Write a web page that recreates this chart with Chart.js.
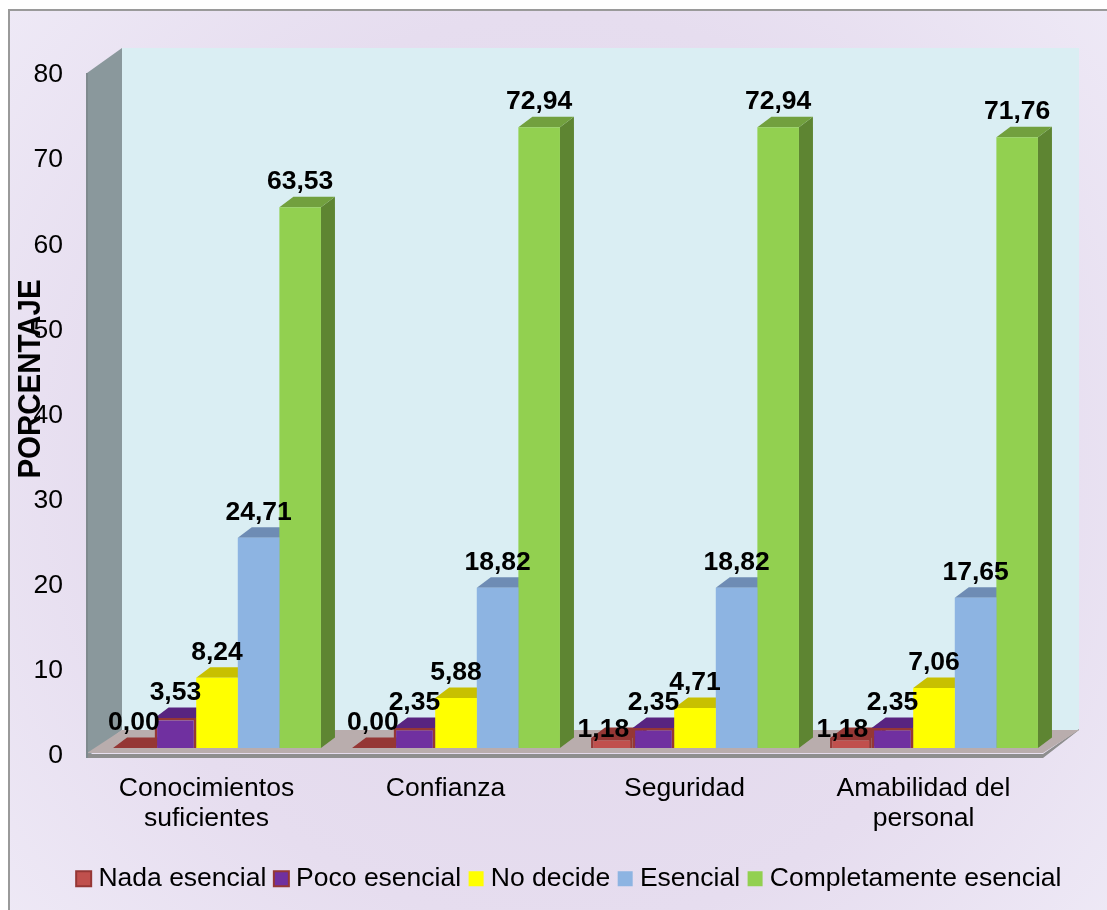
<!DOCTYPE html>
<html><head><meta charset="utf-8">
<style>html,body{margin:0;padding:0;background:#fff}canvas{display:block}</style>
<script src="https://cdn.jsdelivr.net/npm/chart.js@4"></script>
</head><body>
<div style="width:1107px;height:910px"><canvas id="c" width="1107" height="910"></canvas></div>
<script>
const categories = [["Conocimientos","suficientes"],"Confianza","Seguridad",["Amabilidad del","personal"]];
const nadaEsencial = [0.00,0.00,1.18,1.18];
const pocoEsencial = [3.53,2.35,2.35,2.35];
const noDecide = [8.24,5.88,4.71,7.06];
const esencial = [24.71,18.82,18.82,17.65];
const completamente = [63.53,72.94,72.94,71.76];
const seriesNames = ["Nada esencial","Poco esencial","No decide","Esencial","Completamente esencial"];
const axisTitle = "PORCENTAJE";
const FONT = '"Liberation Sans", Arial, sans-serif';
const front = ["#C0504D","#7030A0","#FFFF00","#8DB4E2","#92D050"];
const border = ["#953735","#953735","#FFFF00","#8DB4E2","#92D050"];
const topFace = ["#953735","#582480","#C8C000","#6E8CB4","#72A03E"];
const sideFace = ["#7A2E2C","#4A1E6E","#A8A000","#5F7FA8","#5E8532"];
const bw = [2.5,2.5,0,0,0];
const allValues = [nadaEsencial,pocoEsencial,noDecide,esencial,completamente];
const DEPTH_X = 14, DEPTH_Y = 10.5, SHIFT_X = 10.5;

function poly(ctx, pts, fill){
  ctx.beginPath();
  pts.forEach((p,i)=> i?ctx.lineTo(p[0],p[1]):ctx.moveTo(p[0],p[1]));
  ctx.closePath(); ctx.fillStyle=fill; ctx.fill();
}
const scene = {
  id:'scene',
  beforeDraw(chart){
    const {ctx,width,height}=chart;
    ctx.save();
    ctx.fillStyle='#fff'; ctx.fillRect(0,0,width,height);
    const g=ctx.createRadialGradient(560,470,60,560,470,720);
    g.addColorStop(0,'#E1D7EB'); g.addColorStop(0.6,'#E6DDEF'); g.addColorStop(1,'#EEE9F6');
    ctx.fillStyle=g; ctx.fillRect(9,10,width-9,height-10);
    ctx.fillStyle='#9A9A9A';
    ctx.fillRect(8,9,width-8,2); ctx.fillRect(8,9,2,height-9);
    ctx.restore();
  },
  beforeDatasetsDraw(chart){
    const {ctx,chartArea:a}=chart;
    const l=a.left, r=a.right, t=a.top-2, b=a.bottom, dx=35, dy=25, by=730;
    ctx.save();
    poly(ctx,[[l+dx,t-dy],[r+dx+1,t-dy],[r+dx+1,by],[l+dx,by]],'#DAEEF3');
    poly(ctx,[[l,t],[l+dx,t-dy],[l+dx,by],[l,b+1]],'#8A989C');
    poly(ctx,[[l-1,b-2],[r,b-2],[r+dx+1,by-1],[r+dx+1,by],[r,b+2],[l-1,b+2]],'#8E8E8E');
    poly(ctx,[[l,b-3],[l+dx,by],[r+dx+1,by],[r,b-3]],'#B9ADAD');
    ctx.fillStyle='#7F8A8E'; ctx.fillRect(l-1,t,2,b-t+2);
    ctx.translate(SHIFT_X,0);
    chart.data.datasets.forEach((ds,i)=>{
      chart.getDatasetMeta(i).data.forEach(el=>{
        const p=el.getProps(['x','y','base','width'],true);
        const L=p.x-p.width/2, R=p.x+p.width/2;
        poly(ctx,[[R,p.y],[R+DEPTH_X,p.y-DEPTH_Y],[R+DEPTH_X,p.base-DEPTH_Y],[R,p.base]],sideFace[i]);
        poly(ctx,[[L,p.y],[L+DEPTH_X,p.y-DEPTH_Y],[R+DEPTH_X,p.y-DEPTH_Y],[R,p.y]],topFace[i]);
      });
    });
    ctx.restore();
  },
  beforeDatasetDraw(chart){ chart.ctx.save(); chart.ctx.translate(SHIFT_X,0); },
  afterDatasetDraw(chart){ chart.ctx.restore(); },
  afterDatasetsDraw(chart){
    const {ctx}=chart;
    ctx.save();
    ctx.fillStyle='#000'; ctx.textAlign='center'; ctx.textBaseline='middle';
    ctx.font='bold 26.5px '+FONT;
    chart.data.datasets.forEach((ds,i)=>{
      chart.getDatasetMeta(i).data.forEach((el,j)=>{
        const p=el.getProps(['x','y'],true);
        // the small non-zero "Nada esencial" labels sit lower and to the left of their bars
        const moved = i===0 && ds.data[j]>0;
        const lx = p.x+SHIFT_X-(moved?8.5:0), ly = p.y-(moved?8:25.5);
        ctx.fillText(ds.data[j].toFixed(2).replace('.',','),lx,ly);
      });
    });
    ctx.restore();
    ctx.save();
    ctx.translate(31.5,379); ctx.rotate(-Math.PI/2); ctx.scale(0.95,1);
    ctx.fillStyle='#000'; ctx.textAlign='center'; ctx.textBaseline='middle';
    ctx.font='bold 31px '+FONT;
    ctx.fillText(axisTitle,0,0);
    ctx.restore();
  }
};
new Chart(document.getElementById('c'),{
  type:'bar',
  data:{labels:categories,datasets:seriesNames.map((n,i)=>({
    label:n,data:allValues[i],yAxisID:'yBars',clip:false,
    backgroundColor:front[i],borderColor:border[i],borderWidth:bw[i],
    categoryPercentage:0.87,barPercentage:1
  }))},
  plugins:[scene],
  options:{
    responsive:false,animation:false,
    layout:{padding:{left:20,right:32,top:75,bottom:8}},
    font:{family:FONT},
    plugins:{
      tooltip:{enabled:false},
      legend:{position:'bottom',align:'end',
        labels:{usePointStyle:true,pointStyle:'rect',boxWidth:3,boxHeight:15,padding:13.5,color:'#000',
          font:{family:FONT,size:26.5},
          generateLabels(chart){return seriesNames.map((n,i)=>({text:n,fillStyle:front[i],strokeStyle:border[i],lineWidth:bw[i]?2:0,pointStyle:'rect',datasetIndex:i,fontColor:'#000'}));}
        }}
    },
    scales:{
      x:{grid:{display:false,drawTicks:false},border:{display:false},
        ticks:{color:'#000',padding:18,maxRotation:0,autoSkip:false,font:{family:FONT,size:26.5,lineHeight:1.13}},
        afterFit(s){s.height=96;}},
      y:{min:0,max:80,position:'left',grid:{display:false,drawTicks:false},border:{display:false},
        ticks:{stepSize:10,color:'#000',padding:24,font:{family:FONT,size:26.5}},
        afterFit(s){s.width=67;}},
      yBars:{position:'right',min:-0.94,max:79.08,grid:{display:false,drawTicks:false},border:{display:false},
        ticks:{display:false},afterFit(s){s.width=32;}}
    }
  }
});
</script>
</body></html>
